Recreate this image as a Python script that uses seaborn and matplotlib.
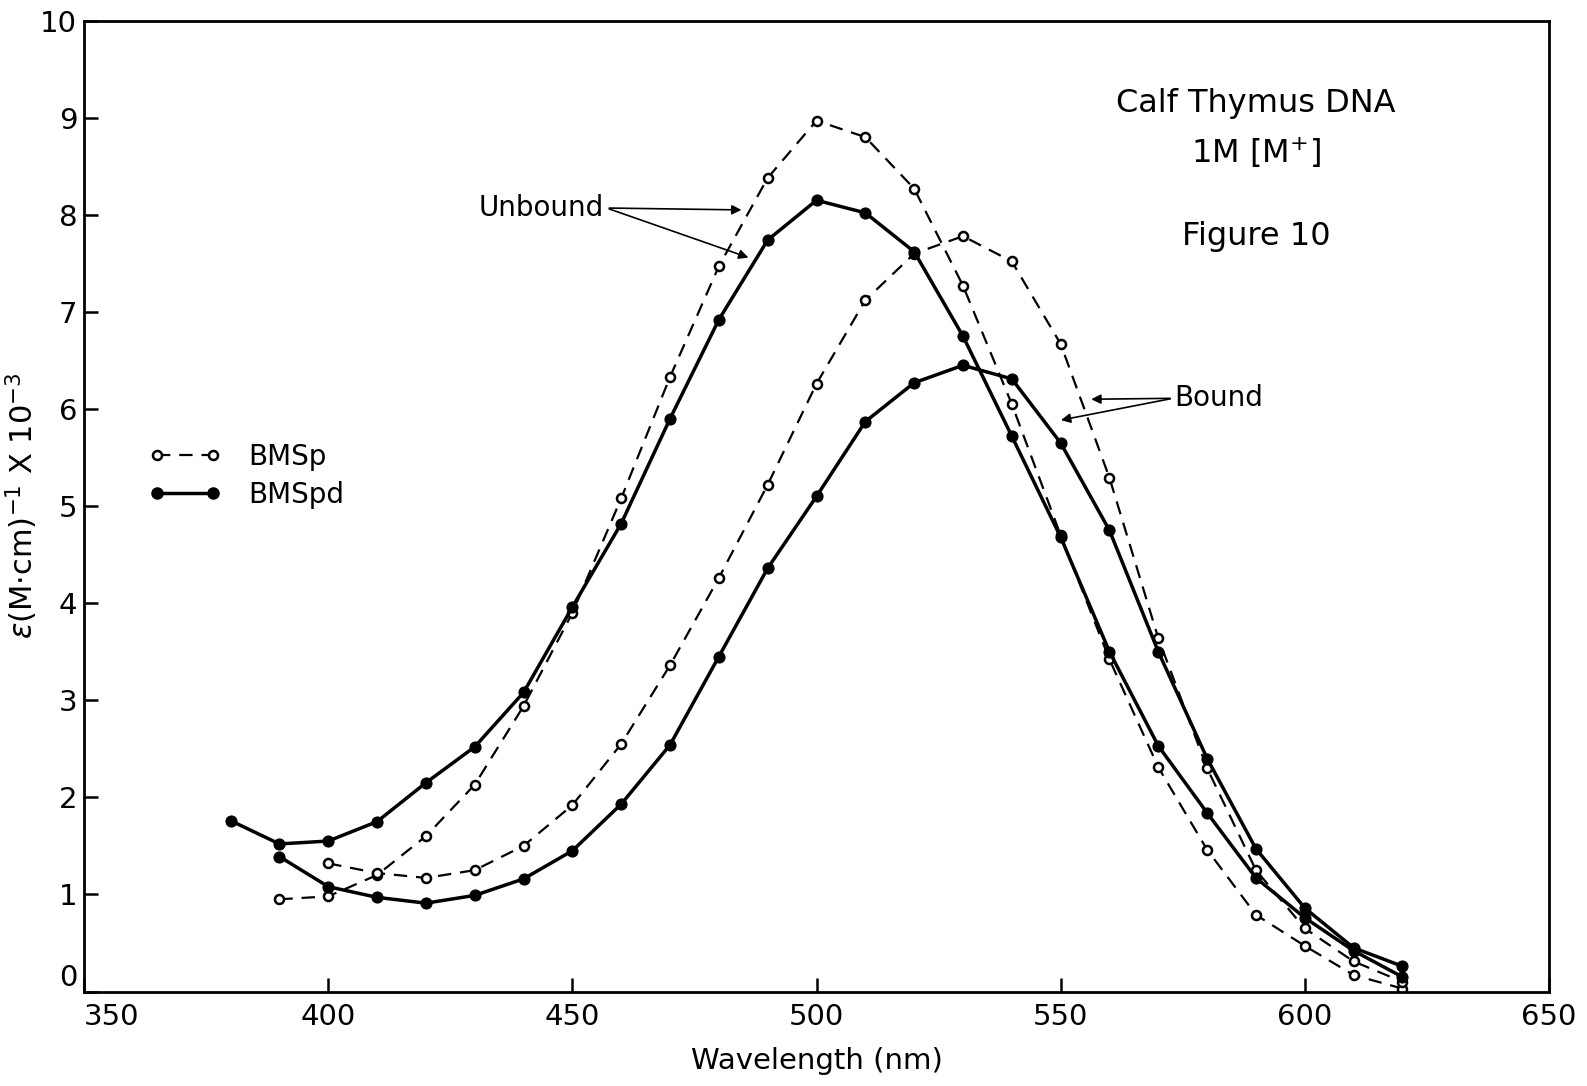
import numpy as np
import pandas as pd
import matplotlib
matplotlib.use("Agg")
import matplotlib.pyplot as plt
from matplotlib.lines import Line2D
import seaborn as sns

# ---- data ----
wl_bmsp_unbound = [390, 400, 410, 420, 430, 440, 450, 460, 470, 480, 490, 500, 510,
                   520, 530, 540, 550, 560, 570, 580, 590, 600, 610, 620]
bmsp_unbound = [0.95, 0.98, 1.20, 1.60, 2.13, 2.94, 3.90, 5.08, 6.33, 7.47, 8.38, 8.97, 8.80,
                8.27, 7.27, 6.05, 4.70, 3.42, 2.31, 1.46, 0.79, 0.47, 0.17, 0.03]

wl_bmsp_bound = [400, 410, 420, 430, 440, 450, 460, 470, 480, 490, 500, 510, 520,
                 530, 540, 550, 560, 570, 580, 590, 600, 610, 620]
bmsp_bound = [1.32, 1.22, 1.17, 1.25, 1.50, 1.92, 2.55, 3.36, 4.26, 5.22, 6.26, 7.12, 7.60,
              7.78, 7.52, 6.67, 5.29, 3.64, 2.30, 1.25, 0.65, 0.31, 0.10]

wl_bmspd_unbound = [380, 390, 400, 410, 420, 430, 440, 450, 460, 470, 480, 490, 500, 510,
                    520, 530, 540, 550, 560, 570, 580, 590, 600, 610, 620]
bmspd_unbound = [1.76, 1.52, 1.55, 1.75, 2.15, 2.52, 3.08, 3.96, 4.82, 5.90, 6.92, 7.74, 8.15, 8.02,
                 7.62, 6.75, 5.72, 4.68, 3.50, 2.53, 1.84, 1.17, 0.76, 0.42, 0.15]

wl_bmspd_bound = [390, 400, 410, 420, 430, 440, 450, 460, 470, 480, 490, 500, 510,
                  520, 530, 540, 550, 560, 570, 580, 590, 600, 610, 620]
bmspd_bound = [1.39, 1.08, 0.97, 0.91, 0.99, 1.16, 1.45, 1.93, 2.54, 3.45, 4.36, 5.10, 5.87,
               6.27, 6.45, 6.31, 5.65, 4.75, 3.50, 2.40, 1.47, 0.86, 0.45, 0.26]

x_ticks = [350, 400, 450, 500, 550, 600, 650]
y_ticks = [0, 1, 2, 3, 4, 5, 6, 7, 8, 9, 10]

# ---- style ----
sns.set_style("ticks")
plt.rcParams["font.family"] = ["DejaVu Sans"]
plt.rcParams["text.color"] = "black"
plt.rcParams["axes.labelcolor"] = "black"
plt.rcParams["xtick.color"] = "black"
plt.rcParams["ytick.color"] = "black"

fig = plt.figure(figsize=(15.87, 10.86), dpi=100)
ax = fig.add_axes([0.053, 0.087, 0.923, 0.894])

open_style = dict(color="black", linestyle=(0, (6, 4)), linewidth=1.6, marker="o",
                  markersize=6.5, markerfacecolor="white", markeredgecolor="black",
                  markeredgewidth=1.8)
filled_style = dict(color="black", linestyle="-", linewidth=2.5, marker="o",
                    markersize=8, markerfacecolor="black", markeredgecolor="black")

series = [
    (wl_bmsp_unbound, bmsp_unbound, open_style),
    (wl_bmsp_bound, bmsp_bound, open_style),
    (wl_bmspd_unbound, bmspd_unbound, filled_style),
    (wl_bmspd_bound, bmspd_bound, filled_style),
]
for xs, ys, st in series:
    df = pd.DataFrame({"wl": xs, "eps": ys})
    sns.lineplot(data=df, x="wl", y="eps", ax=ax, sort=True, legend=False, **st)

ax.set_xlim(350, 650)
ax.set_ylim(0, 10)
ax.set_xticks(x_ticks)
ax.set_yticks(y_ticks)
ax.tick_params(direction="in", length=10, width=1.8, labelsize=21, top=False, right=False,
               labelcolor="black")
ax.tick_params(axis="x", pad=8)
ax.tick_params(axis="y", pad=5)
for s in ax.spines.values():
    s.set_linewidth(2.0)
    s.set_color("black")

# keep the corner labels apart, as in the original
fig.canvas.draw()
ax.get_xticklabels()[0].set_horizontalalignment("left")
ax.get_yticklabels()[0].set_verticalalignment("bottom")

ax.set_xlabel("Wavelength (nm)", fontsize=21, labelpad=12, color="black")
ax.set_ylabel(r"$\epsilon$(M$\cdot$cm)$^{-1}$ X 10$^{-3}$", fontsize=22, color="black")
ax.yaxis.set_label_coords(-0.030, 0.5)

# legend
h1 = Line2D([], [], **open_style)
h2 = Line2D([], [], **filled_style)
leg = ax.legend([h1, h2], ["BMSp", "BMSpd"], numpoints=2, frameon=False, fontsize=20,
                handlelength=2.6, handletextpad=1.0, labelspacing=0.35,
                loc="center left", bbox_to_anchor=(0.027, 0.531))
for t in leg.get_texts():
    t.set_color("black")

# annotations
txt = dict(fontsize=23, color="black")
ax.text(590, 9.15, "Calf Thymus DNA", ha="center", va="center", **txt)
ax.text(590, 8.65, "1M [M$^{+}$]", ha="center", va="center", **txt)
ax.text(590, 7.78, "Figure 10", ha="center", va="center", **txt)

arrow = dict(arrowstyle="-|>", color="black", lw=1.2, mutation_scale=14)
ax.text(456.5, 8.07, "Unbound", ha="right", va="center", fontsize=20, color="black")
ax.annotate("", xy=(485.2, 8.05), xytext=(457, 8.07), arrowprops=arrow)
ax.annotate("", xy=(486.6, 7.55), xytext=(457, 8.07), arrowprops=arrow)
ax.text(573.3, 6.11, "Bound", ha="left", va="center", fontsize=20, color="black")
ax.annotate("", xy=(555.7, 6.10), xytext=(573, 6.11), arrowprops=arrow)
ax.annotate("", xy=(549.5, 5.88), xytext=(573, 6.11), arrowprops=arrow)

fig.savefig("out.png", dpi=100, facecolor="white")
